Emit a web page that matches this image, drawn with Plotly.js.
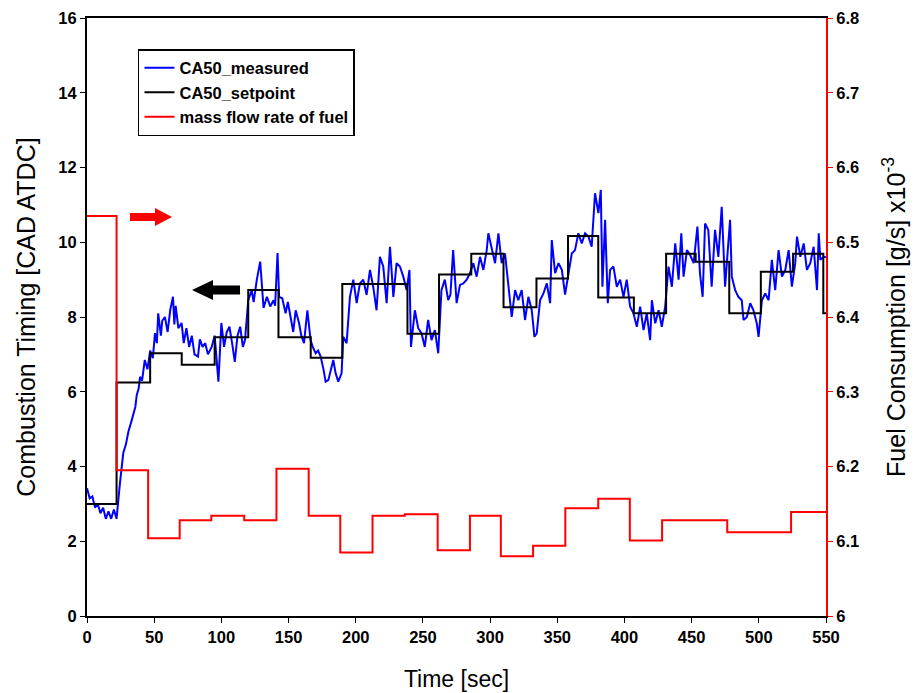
<!DOCTYPE html>
<html>
<head>
<meta charset="utf-8">
<script src="https://cdn.plot.ly/plotly-3.0.1.min.js"></script>
<style>html,body{margin:0;padding:0;background:#fff;}#chart{width:922px;height:693px;}</style>
</head>
<body>
<div id="chart"></div>
<script>
// CA50 measured (time [s], CAD ATDC)
const measTime = [0,2,4,6,8,10,12,14,16,18,20,22,24.5,27,29,30.8,33,34.5,36,37,38.5,39.5,41,43,45,47,49,50.6,52,53,55,56,58,60,62,64,65,66,68,70.4,72,74,76,78,80,82.6,84,86,88,90,92.8,95,97.8,100,102,104,106,108,110,112,114,116,117.6,120,122.6,124,126.4,128.9,131.4,133.9,136.4,138.8,140,141.8,143,145.3,147.8,149.5,151.5,153.5,155.3,157.8,159.5,161.5,164,166.4,168,170.2,172,173.9,176,177.6,179.6,181.3,183.3,185,187,189.5,190.7,193.2,195.7,198.2,200.7,203.1,205.6,208.1,210.6,213,215.5,218,220.5,223,225.5,228,230.4,232.9,235.4,237.9,240,241.1,244,246.5,249,251.4,253.9,256.4,258.9,261.4,263.8,266.3,268.8,270.5,272.5,275.1,277.6,280.1,282.6,285,287.5,290,292.5,295,297.5,298.7,301.2,303.7,306.2,308.6,311.1,313.6,316.1,318.6,321,323.5,326,328.5,331,333,334.7,337.2,339.7,342.2,344.7,345.9,348.4,350.9,353.4,355.8,358.3,360.8,363.2,365.7,368.2,370.7,373.2,375.6,378.1,380.6,382.4,383.6,385.6,387.6,389.3,391.8,394.3,396.8,399.3,401.7,404.2,406.7,409.2,411.7,414.2,416.6,419.1,420.4,422.9,425.4,427.8,430.3,432.8,435.3,437.8,440.3,442.3,444,446.5,449,451.5,454.3,456.2,458.2,460,462.4,464.9,467.4,469.9,472.4,474.9,476.6,478.6,479.9,482.4,484.8,487.3,488.6,491.1,493.6,496,498.5,499.8,502.3,504.8,507.3,509.7,512.2,514.7,517.2,519.7,522.2,524.6,527.1,528.4,530.9,533.4,535.8,538.3,540.8,543.3,544.6,545.8,548.3,550];
const measValue = [3.42,3.15,3.2,2.9,3.0,2.75,2.9,2.6,2.8,2.6,2.85,2.6,3.55,4.36,4.6,4.93,5.2,5.43,5.6,5.91,6.1,6.4,6.3,6.85,6.6,7.1,6.9,7.57,7.3,8.1,7.5,7.9,8.0,7.6,8.2,8.54,7.8,8.3,7.7,7.84,7.3,7.7,7.2,7.5,7.0,6.94,7.4,7.2,7.3,7.0,7.2,7.5,6.27,7.84,7.2,7.6,7.74,7.3,6.8,7.5,7.74,7.2,7.38,8.45,8.72,8.4,9.0,9.48,8.24,8.54,8.28,8.45,8.3,9.71,8.54,8.5,8.1,8.4,8.0,7.6,8.18,7.84,7.5,7.3,8.18,7.38,7.2,7.03,7.1,6.94,6.6,6.27,6.31,6.58,6.85,6.5,6.27,6.5,7.47,7.3,8.54,9.0,8.37,8.9,9.0,8.59,9.26,8.81,8.18,9.61,9.35,8.37,9.88,8.54,9.44,9.35,9.08,8.72,9.26,7.2,8.18,7.7,7.56,7.2,7.92,7.38,7.65,7.03,8.72,9.0,8.45,8.6,9.79,8.37,8.86,8.9,9.0,9.17,9.44,9.08,9.61,9.26,9.79,10.24,9.88,9.44,10.24,9.44,9.7,8.9,8.0,8.72,8.45,8.72,7.92,8.54,8.18,7.47,7.56,8.45,8.63,8.9,8.37,10.06,9.17,9.44,9.26,8.6,9.17,9.7,9.79,10.24,9.97,10.24,10.15,9.88,11.31,10.78,11.4,8.81,10.6,8.37,9.26,9.35,8.81,9.0,8.54,9.0,8.28,8.10,7.74,8.28,7.65,8.10,7.38,8.45,7.83,8.18,7.74,8.28,9.35,8.81,9.97,9.0,10.24,9.08,9.79,9.65,9.44,10.42,9.17,8.54,10.5,10.33,8.81,10.33,9.61,10.95,8.81,9.61,10.6,9.08,8.72,8.54,8.45,7.92,8.0,8.37,8.18,7.83,7.47,8.45,8.63,8.45,9.53,8.72,9.79,9.08,9.26,9.79,8.81,9.44,10.15,9.61,9.97,9.26,9.44,9.88,8.72,10.24,9.53,9.61,9.6];

// CA50 setpoint (step changes)
const setTime = [0,22,47,70.5,95,120,142.5,166.5,190,238.5,262,286,310,334.5,358,380.5,407,431,453,478,501.5,525.5,548,550];
const setValue = [3.0,6.25,7.03,6.72,7.46,8.72,7.46,6.91,8.88,7.55,9.14,9.69,8.26,9.03,10.17,8.52,8.10,9.69,9.48,8.10,9.21,9.69,8.1,8.1];

// Mass flow rate of fuel [g/s x10^-3] (step changes)
const fuelTime = [0,22,45.5,69,92.5,117,141,165,188.5,212.5,236.5,261,285,308,332,356,380.5,404,428,476.5,524,550];
const fuelValue = [6.535,6.195,6.104,6.128,6.134,6.128,6.197,6.134,6.085,6.134,6.136,6.088,6.134,6.080,6.094,6.144,6.157,6.101,6.128,6.112,6.139,6.139];

const xTicks = [0,50,100,150,200,250,300,350,400,450,500,550];
const yTicks = [0,2,4,6,8,10,12,14,16];
const y2Ticks = [6,6.1,6.2,6.3,6.4,6.5,6.6,6.7,6.8];
const y2Labels = ['6','6.1','6.2','6.3','6.4','6.5','6.6','6.7','6.8'];

const FONT = 'Arial, "Liberation Sans", sans-serif';

const traces = [
  {x: measTime, y: measValue, type: 'scatter', mode: 'lines', name: 'CA50_measured',
   line: {color: '#0000ff', width: 2}},
  {x: setTime, y: setValue, type: 'scatter', mode: 'lines', name: 'CA50_setpoint',
   line: {color: '#000000', width: 2, shape: 'hv'}},
  {x: fuelTime, y: fuelValue, type: 'scatter', mode: 'lines', name: 'mass flow rate of fuel',
   yaxis: 'y2', line: {color: '#ff0000', width: 2, shape: 'hv'}}
];

const layout = {
  width: 922, height: 693,
  margin: {l: 87, r: 96, t: 18, b: 77},
  paper_bgcolor: '#ffffff', plot_bgcolor: '#ffffff',
  font: {family: FONT, color: '#000000'},
  showlegend: true,
  legend: {x: 0.069, y: 0.948, xanchor: 'left', yanchor: 'top',
           bgcolor: '#ffffff', bordercolor: '#000000', borderwidth: 1.5,
           font: {family: FONT, size: 16.5, color: '#000000', weight: 'bold'},
           tracegroupgap: 0, itemwidth: 30},
  xaxis: {range: [0, 550], tickvals: xTicks, ticktext: xTicks.map(String),
          showgrid: false, zeroline: false, showline: true, linecolor: '#000000', linewidth: 2,
          mirror: true, ticks: 'outside', ticklen: 5, tickcolor: '#000000',
          tickfont: {family: FONT, size: 16.5, weight: 'bold'},
          title: {text: 'Time [sec]', font: {family: FONT, size: 23}, standoff: 26}},
  yaxis: {range: [0, 16], tickvals: yTicks, ticktext: yTicks.map(String),
          showgrid: false, zeroline: false, showline: true, linecolor: '#000000', linewidth: 2,
          ticks: 'outside', ticklen: 5, tickcolor: '#000000',
          tickfont: {family: FONT, size: 16.5, weight: 'bold'},
          title: {text: 'Combustion Timing [CAD ATDC]', font: {family: FONT, size: 25}, standoff: 16}},
  yaxis2: {range: [6, 6.8], overlaying: 'y', side: 'right', tickvals: y2Ticks, ticktext: y2Labels,
           showgrid: false, zeroline: false, showline: true, linecolor: '#ff0000', linewidth: 2,
           ticks: 'outside', ticklen: 5, tickcolor: '#ff0000',
           tickfont: {family: FONT, size: 16.5, weight: 'bold'},
           title: {text: 'Fuel Consumption [g/s] x10<sup>-3</sup>', font: {family: FONT, size: 25}, standoff: 28}},
  shapes: [
    {type: 'path', xref: 'x', yref: 'y', fillcolor: '#ff0000', line: {width: 0},
     path: 'M 32,10.568 L 50.6,10.568 L 50.6,10.434 L 63.26,10.675 L 50.6,10.916 L 50.6,10.782 L 32,10.782 Z'},
    {type: 'path', xref: 'x', yref: 'y', fillcolor: '#000000', line: {width: 0},
     path: 'M 78.15,8.722 L 93.8,8.99 L 93.8,8.842 L 113.9,8.842 L 113.9,8.602 L 93.8,8.602 L 93.8,8.454 Z'}
  ]
};

Plotly.newPlot('chart', traces, layout, {displayModeBar: false, staticPlot: true});
</script>
</body>
</html>
